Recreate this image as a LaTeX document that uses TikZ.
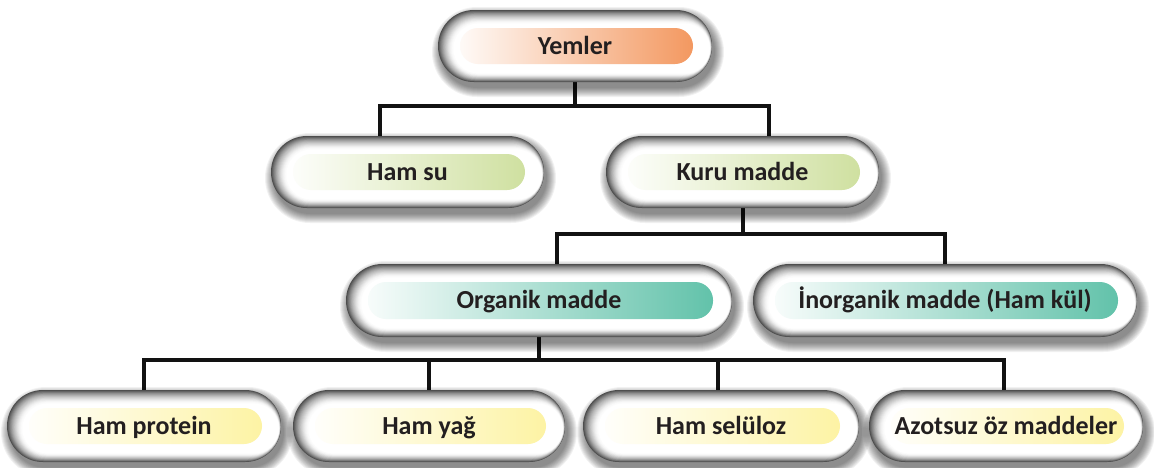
\documentclass[tikz,border=0pt]{standalone}
\usepackage{fontspec}
\setmainfont{Carlito}
\pgfdeclarelayer{bg}
\pgfsetlayers{bg,main}
\definecolor{txt}{HTML}{231F20}
\definecolor{corange}{HTML}{F39860}
\definecolor{cgreen}{HTML}{CFE0A0}
\definecolor{cteal}{HTML}{62C2AA}
\definecolor{cyellow}{HTML}{FDF3A4}
\newcommand{\pillbg}[5]{%
  \pgfmathsetmacro\pa{#1-#3/2}\pgfmathsetmacro\pb{#2-#4/2}%
  \pgfmathsetmacro\pc{#1+#3/2}\pgfmathsetmacro\pd{#2+#4/2}%
  \foreach \e in {9,8,...,0}{%
    \pgfmathsetmacro\rr{#4/2+\e}%
    \fill[black,opacity=0.055,rounded corners=\rr pt] (\pa-\e+3,\pb-\e+6) rectangle (\pc+\e+3,\pd+\e+6);
  }%
  \foreach \k in {0,...,18}{%
    \pgfmathtruncatemacro\g{70*(1-\k/18)^1.8}%
    \pgfmathsetmacro\rr{(#4-1.3*\k)/2}%
    \fill[black!\g!white,rounded corners=\rr pt] (\pa+0.9*\k,\pb+0.8*\k) rectangle (\pc-0.12*\k,\pd-0.5*\k);
  }%
  \shade[left color=#5!5!white,right color=#5,rounded corners=18pt] (\pa+22,\pb+18) rectangle (\pc-19,\pd-18);
}
\tikzset{
  lbl/.style={font=\bfseries\fontsize{26}{30}\selectfont, text=txt, inner sep=0pt,
    minimum height=72pt, text height=16.7pt, text depth=0pt},
  conn/.style={line width=4pt, draw=black!93}
}
\begin{document}
\begin{tikzpicture}[x=1pt,y=-1pt]
\useasboundingbox (0,0) rectangle (1154,467);
\begin{pgfonlayer}{bg}
\fill[white] (0,0) rectangle (1154,467);
\end{pgfonlayer}
% backgrounds
\pillbg{575}{46}{274}{72}{corange}
\pillbg{407.5}{172}{273}{72}{cgreen}
\pillbg{742.5}{172}{273}{72}{cgreen}
\pillbg{539}{300.5}{386}{73}{cteal}
\pillbg{945}{300.5}{384}{73}{cteal}
\pillbg{144}{426}{274}{72}{cyellow}
\pillbg{429}{426}{272}{72}{cyellow}
\pillbg{721}{426}{276}{72}{cyellow}
\pillbg{1006}{426}{274}{72}{cyellow}
% nodes
\node[lbl, minimum width=274pt] (yem) at (575,46) {Yemler};
\node[lbl, minimum width=273pt] (hamsu) at (407.5,172) {Ham su};
\node[lbl, minimum width=273pt] (kuru) at (742.5,172) {Kuru madde};
\node[lbl, minimum width=386pt] (org) at (539,300.5) {Organik madde};
\node[lbl, minimum width=384pt] (inorg) at (945,300.5) {İnorganik madde (Ham kül)};
\node[lbl, minimum width=274pt] (p1) at (144,426) {Ham protein};
\node[lbl, minimum width=272pt] (p2) at (429,426) {Ham yağ};
\node[lbl, minimum width=276pt] (p3) at (721,426) {Ham selüloz};
\node[lbl, minimum width=274pt] (p4) at (1006,426) {Azotsuz öz maddeler};
% connectors
\coordinate (b1) at (575,106);
\coordinate (b2) at (742.5,234);
\coordinate (b3) at (539,360);
\begin{pgfonlayer}{bg}
\draw[conn] (yem.south) -- (b1);
\draw[conn] ([xshift=-27.5pt]hamsu.north) |- (b1) -| ([xshift=26.5pt]kuru.north);
\draw[conn] (kuru.south) -- (b2);
\draw[conn] ([xshift=18pt]org.north) |- (b2) -| (inorg.north);
\draw[conn] (org.south) -- (b3);
\draw[conn] (p1.north) |- (b3) -| ([xshift=-2pt]p4.north);
\draw[conn] (p2.north) -- (p2.north |- b3);
\draw[conn] ([xshift=-3pt]p3.north) -- ([xshift=-3pt]p3.north |- b3);
\end{pgfonlayer}
\end{tikzpicture}
\end{document}
